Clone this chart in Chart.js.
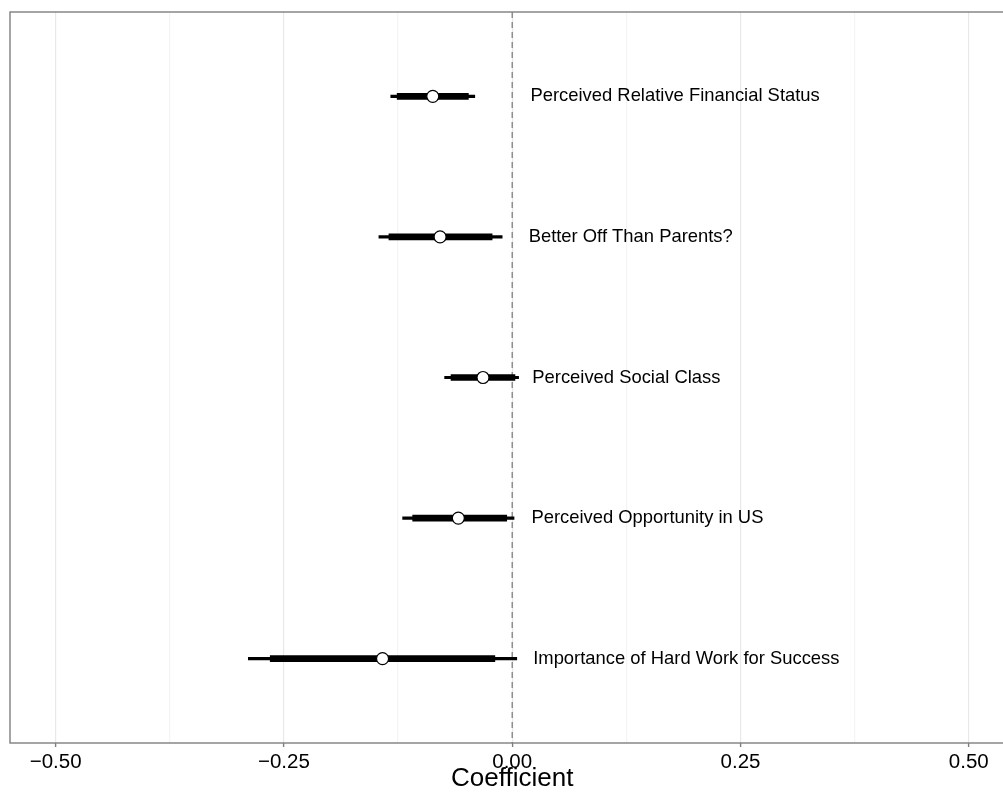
<!DOCTYPE html>
<html>
<head>
<meta charset="utf-8">
<script src="https://cdn.jsdelivr.net/npm/chart.js@4.4.1/dist/chart.umd.min.js"></script>
<style>
  body { margin: 0; background: #fff; }
  canvas { display: block; }
</style>
</head>
<body>
<canvas id="chart" width="1003" height="796"></canvas>
<script>
// coefficient estimates, top row first
const categories = [
  "Perceived Relative Financial Status",
  "Better Off Than Parents?",
  "Perceived Social Class",
  "Perceived Opportunity in US",
  "Importance of Hard Work for Success",
];
const estimates = [-0.087, -0.079, -0.032, -0.059, -0.142];
const outerLow = [-0.133, -0.146, -0.074, -0.120, -0.289];
const outerHigh = [-0.041, -0.011, 0.007, 0.002, 0.005];
const innerLow = [-0.126, -0.135, -0.067, -0.109, -0.265];
const innerHigh = [-0.048, -0.022, 0.003, -0.006, -0.019];
const labelX = [0.020, 0.018, 0.022, 0.021, 0.023];

const majorTicks = [-0.5, -0.25, 0, 0.25, 0.5];
const majorTickLabels = ["\u22120.50", "\u22120.25", "0.00", "0.25", "0.50"];
const minorTicks = [-0.375, -0.125, 0.125, 0.375];
const xTitle = "Coefficient";

const rowY = categories.map((c, i) => i + 1);
const isMajor = (v) => majorTicks.some((m) => Math.abs(m - v) < 1e-9);
const tickVal = (c) => (c && c.tick ? c.tick.value : NaN);

const FONT = "'Liberation Sans', Arial, Helvetica, sans-serif";

// grey panel border + dashed zero line + row labels + axis title
const panelPlugin = {
  id: "panel",
  beforeDatasetsDraw(chart) {
    const { ctx, chartArea, scales } = chart;
    const x0 = scales.x.getPixelForValue(0);
    ctx.save();
    ctx.strokeStyle = "#7f7f7f";
    ctx.lineWidth = 1.3;
    ctx.setLineDash([6, 4]);
    ctx.beginPath();
    ctx.moveTo(x0, chartArea.top);
    ctx.lineTo(x0, chartArea.bottom);
    ctx.stroke();
    ctx.restore();
  },
  afterDraw(chart) {
    const { ctx, chartArea, scales } = chart;
    ctx.save();
    ctx.fillStyle = "#000";
    ctx.font = "18.4px " + FONT;
    ctx.textAlign = "left";
    ctx.textBaseline = "middle";
    categories.forEach((label, i) => {
      ctx.fillText(label, scales.x.getPixelForValue(labelX[i]), scales.y.getPixelForValue(rowY[i]));
    });
    // axis title centred on the (wider, cropped) panel
    ctx.font = "26px " + FONT;
    ctx.textAlign = "center";
    ctx.fillText(xTitle, scales.x.getPixelForValue(0), chart.height - 17);
    ctx.strokeStyle = "#7f7f7f";
    ctx.lineWidth = 1.4;
    ctx.strokeRect(chartArea.left, chartArea.top, chartArea.right - chartArea.left + 4, chartArea.bottom - chartArea.top);
    ctx.restore();
  },
};

new Chart(document.getElementById("chart"), {
  type: "bar",
  data: {
    datasets: [
      {
        type: "scatter",
        data: estimates.map((v, i) => ({ x: v, y: rowY[i] })),
        pointRadius: 6,
        pointBackgroundColor: "#fff",
        pointBorderColor: "#000",
        pointBorderWidth: 1.2,
        order: 0,
      },
      {
        indexAxis: "y",
        grouped: false,
        data: outerLow.map((v, i) => ({ x: [v, outerHigh[i]], y: rowY[i] })),
        backgroundColor: "#000",
        barThickness: 2.5,
        order: 2,
      },
      {
        indexAxis: "y",
        grouped: false,
        data: innerLow.map((v, i) => ({ x: [v, innerHigh[i]], y: rowY[i] })),
        backgroundColor: "#000",
        barThickness: 6,
        order: 1,
      },
    ],
  },
  options: {
    responsive: false,
    animation: false,
    layout: { autoPadding: false, padding: { left: 10, top: 12, right: 0, bottom: 0 } },
    plugins: { legend: { display: false }, tooltip: { enabled: false } },
    scales: {
      x: {
        type: "linear",
        min: -0.55,
        max: 0.5375,
        offset: false,
        afterBuildTicks: (scale) => {
          scale.ticks = majorTicks.concat(minorTicks).sort((a, b) => a - b).map((v) => ({ value: v }));
        },
        afterFit: (scale) => {
          scale.height = 53;
          scale.paddingLeft = 0;
          scale.paddingRight = 0;
        },
        grid: {
          offset: false,
          color: (c) => (isMajor(tickVal(c)) ? "#e8e8e8" : "#f4f4f4"),
          lineWidth: 1.2,
          drawTicks: true,
          tickLength: 4,
          tickWidth: 1.4,
          tickColor: (c) => (isMajor(tickVal(c)) ? "#7f7f7f" : "rgba(0,0,0,0)"),
        },
        border: { display: false },
        ticks: {
          autoSkip: false,
          maxRotation: 0,
          padding: 3,
          color: "#000",
          font: { family: FONT, size: 20.5 },
          callback: (value) => {
            const k = majorTicks.findIndex((m) => Math.abs(m - value) < 1e-9);
            return k >= 0 ? majorTickLabels[k] : "";
          },
        },
        title: { display: false },
      },
      y: {
        type: "linear",
        min: 0.4,
        max: 5.6,
        reverse: true,
        offset: false,
        grid: { offset: false },
        display: false,
      },
    },
  },
  plugins: [panelPlugin],
});
</script>
</body>
</html>
